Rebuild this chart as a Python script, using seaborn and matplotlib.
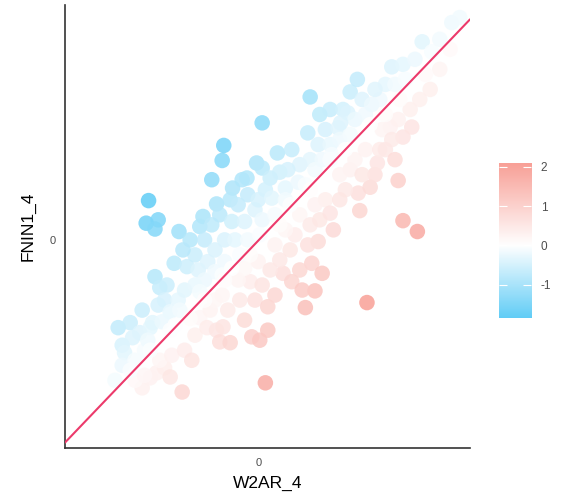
import numpy as np
import pandas as pd
import matplotlib.pyplot as plt
import seaborn as sns
from matplotlib.colors import LinearSegmentedColormap, Normalize

# points above the diagonal (FNIN1_4 > W2AR_4)
w2ar_up = [-1.76, -1.61, -1.71, -1.68, -1.71, -1.58, -1.46, -1.49, -1.36, -1.33,
           -1.43, -1.55, -1.39, -1.30, -1.24, -1.15, -1.06, -0.90, -1.18, -1.26,
           -1.11, -1.01, -0.93, -1.21, -1.05, -0.93, -0.99, -1.38, -1.41, -1.26,
           -1.30, -1.00, -0.86, -0.80, -0.95, -0.70, -0.74, -0.53, -0.59, -0.46,
           -0.68, -0.59, -0.49, -0.76, -0.64, -0.55, -0.43, -0.80, -0.68, -0.55,
           -0.43, -0.74, -0.46, -0.44, -0.33, -0.21, -0.15, -0.36, -0.26, -0.14,
           -0.34, -0.18, -0.05, -0.30, -0.14, -0.24, 0.04, -0.03, 0.04, 0.14,
           0.23, 0.08, 0.26, -0.01, 0.16, 0.33, 0.04, 0.20, 0.41, 0.61,
           0.64, 0.51, 0.36, 0.64, 0.49, 0.33, 0.58, 0.70, 0.76, 0.89,
           1.05, 0.83, 0.99, 0.74, 0.89, 1.01, 0.79, 0.91, 1.14, 1.23,
           1.29, 1.11, 1.20, 1.33, 1.41, 1.14, 1.66, 1.80, 1.58, 1.51,
           1.70, 1.83, 2.04, 2.41, 1.95, 2.16, 2.26, 2.51, 1.02, 1.45]
fnin1_up = [-1.05, -0.99, -1.26, -1.35, -1.50, -1.17, -0.84, -1.11, -1.05, -0.99,
            -1.32, -1.44, -1.20, -0.44, -0.57, -0.54, -0.28, -0.32, -0.72, -0.78,
            -0.86, -0.72, -0.60, -0.98, -1.02, -0.90, -0.84, 0.47, 0.20, 0.24,
            0.13, 0.10, 0.00, -0.18, -0.12, 0.28, 0.16, 0.43, 0.72, 0.95,
            0.00, 0.18, 0.30, -0.36, -0.26, -0.12, 0.00, -0.54, -0.48, -0.38,
            -0.26, -0.62, -0.42, 1.13, 0.62, 0.72, 0.74, 0.48, 0.42, 0.54,
            0.22, 0.22, 0.36, 0.00, 0.00, -0.18, 1.40, 0.92, 0.86, 0.74,
            1.04, 0.60, 0.81, 0.48, 0.50, 0.62, 0.24, 0.30, 1.08, 1.28,
            1.71, 0.90, 0.84, 0.96, 0.69, 0.48, 0.66, 0.84, 1.50, 1.56,
            1.56, 1.32, 1.34, 1.14, 1.14, 1.20, 0.96, 1.02, 1.77, 1.92,
            1.68, 1.52, 1.44, 1.50, 1.62, 1.26, 2.07, 2.10, 1.86, 1.68,
            1.86, 1.92, 2.37, 2.60, 2.16, 2.25, 2.40, 2.66, 1.40, 1.80]

# points below the diagonal (W2AR_4 > FNIN1_4)
w2ar_down = [-1.46, -1.28, -1.18, -1.11, -0.96, -1.36, -1.55, -1.24, -1.09, -1.43,
             -0.93, -0.80, -0.84, -0.74, -0.61, -0.65, -0.53, -0.49, -0.45, -0.36,
             -0.55, -0.39, -0.46, -0.09, 0.01, -0.18, -0.24, -0.05, -0.11, 0.04,
             -0.26, -0.18, -0.01, 0.08, 0.11, 0.11, 0.30, 0.41, 0.20, 0.26,
             0.14, 0.39, 0.20, 0.45, 0.33, 0.51, 0.58, 0.66, 0.70, 0.74,
             0.79, 0.61, 0.51, 0.54, 0.64, 0.76, 0.83, 0.89, 0.93, 0.70,
             1.24, 1.26, 1.39, 1.35, 1.08, 1.14, 1.01, 1.20, 1.33, 1.45,
             1.29, 1.48, 1.51, 1.74, 1.80, 1.98, 1.64, 1.74, 1.80, 1.91,
             1.54, 1.66, 1.58, 1.70, 1.89, 2.01, 2.14, 2.26, 2.39, 1.01]
fnin1_down = [-1.77, -1.59, -1.53, -1.64, -1.82, -1.65, -1.68, -1.44, -1.38, -1.62,
              -1.32, -1.14, -1.44, -0.93, -0.84, -1.05, -1.08, -1.22, -1.04, -1.23,
              -0.72, -0.84, -0.66, -1.16, -1.20, -0.96, -0.72, -0.72, -0.50, -0.54,
              -0.48, -0.34, -0.26, -1.71, -1.08, -0.80, -0.40, -0.50, -0.66, -0.24,
              -0.36, -0.12, -0.06, 0.06, 0.12, 0.30, -0.81, -0.28, -0.61, -0.02,
              -0.40, -0.06, -0.36, -0.60, 0.18, 0.24, 0.48, 0.32, 0.12, 0.42,
              0.56, 0.35, 0.63, -0.75, 0.60, 0.84, 0.78, 0.96, 1.08, 0.78,
              0.78, 0.92, 1.08, 0.71, 0.23, 0.10, 1.35, 1.44, 1.23, 1.35,
              1.32, 1.20, 1.08, 0.96, 1.56, 1.68, 1.80, 2.04, 2.28, 0.48]

# points lying close to the diagonal
w2ar_mid = [-1.11, -0.86, -0.68, -0.34, -0.11, 0.26, 0.39, 0.89, 1.08, 1.39,
            1.58, 1.76, 2.08, -1.36, -1.61, -1.80, 0.01, -0.43, 0.64]
fnin1_mid = [-1.08, -0.94, -0.72, -0.34, -0.18, 0.18, 0.42, 0.96, 1.08, 1.38,
             1.50, 1.68, 1.98, -1.32, -1.56, -1.68, 0.06, -0.48, 0.60]

low_col = "#4CC6F5"
high_col = "#F8A097"
line_col = "#EC3A6B"

df = pd.DataFrame({
    "W2AR_4": w2ar_up + w2ar_down + w2ar_mid,
    "FNIN1_4": fnin1_up + fnin1_down + fnin1_mid,
})
df["diff"] = df["W2AR_4"] - df["FNIN1_4"]

lim = df["diff"].abs().max()
norm = Normalize(vmin=-lim, vmax=lim)
cmap = LinearSegmentedColormap.from_list("blue_white_red", [low_col, "white", high_col])

sns.set_style("white")
plt.rcParams["font.family"] = ["Liberation Sans", "DejaVu Sans"]
plt.rcParams["axes.unicode_minus"] = False

fig = plt.figure(figsize=(5.76, 4.95), dpi=100)
ax = fig.add_axes([0.1128, 0.0949, 0.7031, 0.895])

sns.scatterplot(data=df, x="W2AR_4", y="FNIN1_4", hue="diff", palette=cmap,
                hue_norm=norm, s=125, linewidth=0, alpha=0.85, legend=False, ax=ax)
ax.axline((0, 0), slope=1, color=line_col, lw=1.5, zorder=5)

ax.set_xlim(-2.425, 2.6375)
ax.set_ylim(-2.49, 2.81)
ax.set_xticks([0])
ax.set_yticks([0])
sns.despine(ax=ax)
for side in ["left", "bottom"]:
    ax.spines[side].set_color("#333333")
    ax.spines[side].set_linewidth(1.2)
ax.tick_params(length=4, width=0.8, color="#333333", labelcolor="#4D4D4D",
               labelsize=8, pad=3)
ax.set_xlabel("W2AR_4", fontsize=12.5, color="black", labelpad=6)
ax.set_ylabel("FNIN1_4", fontsize=12.5, color="black", labelpad=10)

# colour bar
lo, hi = df["diff"].min(), df["diff"].max()
cax = fig.add_axes([0.866, 0.3576, 0.0556, 0.313])
grad = np.linspace(lo, hi, 256)[:, None]
cax.imshow(grad, aspect="auto", cmap=cmap, norm=norm, origin="lower",
           extent=[0, 1, lo, hi])
cax.set_xlim(0, 1)
cax.set_ylim(lo, hi)
cax.set_xticks([])
cax.set_yticks([-1, 0, 1, 2])
cax.yaxis.tick_right()
cax.tick_params(axis="y", which="both", left=True, right=True, direction="in",
                length=6, width=0.8, color="white", labelcolor="#4D4D4D",
                labelsize=8.5, pad=7)
for sp in cax.spines.values():
    sp.set_visible(False)

fig.savefig("out.png", dpi=100)
